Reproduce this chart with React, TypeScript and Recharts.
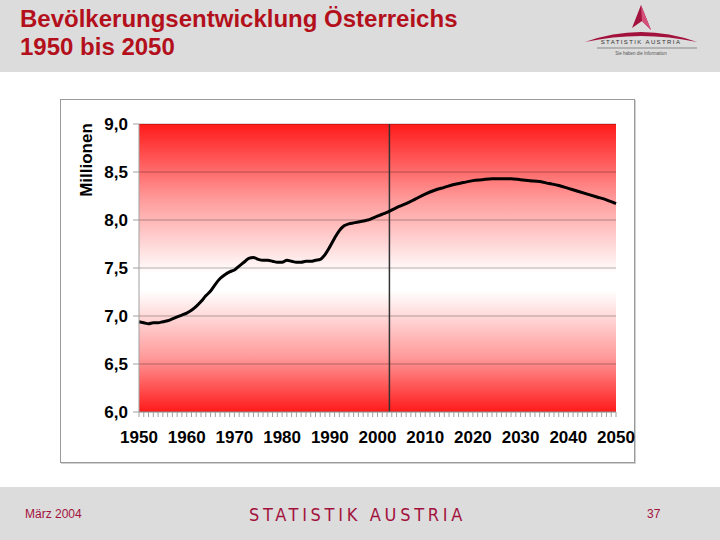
import React from 'react';
import {
  LineChart, Line, XAxis, YAxis, CartesianGrid, ReferenceLine,
} from 'recharts';

// ── Data (Mio. Einwohner) ─────────────────────────────────────
const years = [
  1950, 1951, 1952, 1953, 1954, 1955, 1956, 1957, 1958, 1959,
  1960, 1961, 1962, 1963, 1964, 1965, 1966, 1967, 1968, 1969,
  1970, 1971, 1972, 1973, 1974, 1975, 1976, 1977, 1978, 1979,
  1980, 1981, 1982, 1983, 1984, 1985, 1986, 1987, 1988, 1989,
  1990, 1991, 1992, 1993, 1994, 1995, 1996, 1997, 1998, 1999,
  2000, 2001, 2002, 2004, 2006, 2008, 2010, 2012, 2014, 2016,
  2018, 2020, 2022, 2024, 2026, 2028, 2030, 2032, 2034, 2036,
  2038, 2040, 2042, 2044, 2046, 2048, 2050,
];
const population = [
  6.94, 6.93, 6.92, 6.93, 6.93, 6.94, 6.95, 6.97, 6.99, 7.01,
  7.03, 7.06, 7.10, 7.15, 7.21, 7.26, 7.33, 7.39, 7.43, 7.46,
  7.48, 7.52, 7.56, 7.60, 7.61, 7.59, 7.58, 7.58, 7.57, 7.56,
  7.56, 7.58, 7.57, 7.56, 7.56, 7.57, 7.57, 7.58, 7.59, 7.64,
  7.72, 7.81, 7.89, 7.94, 7.96, 7.97, 7.98, 7.99, 8.00, 8.02,
  8.04, 8.06, 8.08, 8.13, 8.17, 8.22, 8.27, 8.31, 8.34, 8.37,
  8.39, 8.41, 8.42, 8.43, 8.43, 8.43, 8.42, 8.41, 8.40, 8.38,
  8.36, 8.33, 8.30, 8.27, 8.24, 8.21, 8.17,
];
const yTicks = [6.0, 6.5, 7.0, 7.5, 8.0, 8.5, 9.0];
const yearTicks = Array.from({ length: 101 }, (_, i) => 1950 + i);
const baseYear = 2002.5;

const data = years.map((y, i) => ({ year: y, value: population[i] }));

const FONT = '"Liberation Sans", Arial, sans-serif';
const RED = '#b3101c';
const CRIMSON = '#a3123c';
const GRAY_BG = '#dcdcdc';

// ── X tick: small line every year, label every decade ─────────
function YearTick({ x, y, payload }: { x?: number; y?: number; payload?: { value: number } }) {
  const v = payload?.value ?? 0;
  return (
    <g>
      <line x1={x} x2={x} y1={y} y2={(y ?? 0) + 5} stroke="#a0a0a0" strokeWidth={1} />
      {v % 10 === 0 && (
        <text x={x} y={(y ?? 0) + 31} textAnchor="middle" fontFamily={FONT} fontSize={17} fontWeight="bold" fill="#000">
          {v}
        </text>
      )}
    </g>
  );
}

// ── Logo ──────────────────────────────────────────────────────
function Logo() {
  return (
    <svg width={130} height={62} style={{ position: 'absolute', left: 578, top: 0 }}>
      <path d="M63 5 L54 28 L64 21 L73 30 Z" fill={CRIMSON} />
      <path d="M63 5 L64 21 L73 30 Z" fill="#d4507a" />
      <path d="M7 42 Q63 22 119 42 Q63 30 7 42 Z" fill={CRIMSON} />
      <text x={63} y={44} textAnchor="middle" fontFamily={FONT} fontSize={6} letterSpacing={1.4} fill="#333">
        STATISTIK AUSTRIA
      </text>
      <line x1={19} x2={119} y1={48} y2={48} stroke="#888" strokeWidth={1} />
      <text x={63} y={55} textAnchor="middle" fontFamily={FONT} fontSize={4.5} fill="#555">
        Sie haben die Information
      </text>
    </svg>
  );
}

export default function App() {
  return (
    <div style={{ position: 'absolute', left: 0, top: 0, width: 720, height: 540, background: '#fff', overflow: 'hidden', fontFamily: FONT }}>
      {/* Header */}
      <div style={{ position: 'absolute', left: 0, top: 0, width: 720, height: 72, background: GRAY_BG }} />
      <div style={{ position: 'absolute', left: 20, top: 5, color: RED, fontWeight: 'bold', fontSize: 24, lineHeight: '28px' }}>
        Bevölkerungsentwicklung Österreichs<br />1950 bis 2050
      </div>
      <Logo />

      {/* Chart box */}
      <div style={{ position: 'absolute', left: 60, top: 99, width: 573, height: 362, border: '1px solid #9a9a9a', boxShadow: '1px 1px 0 #d0d0d0', background: '#fff' }} />
      <div style={{ position: 'absolute', left: 60, top: 99 }}>
        <LineChart width={575} height={364} data={data} margin={{ top: 25, right: 19, left: 0, bottom: 11 }}>
          <defs>
            <linearGradient id="plotGrad" x1="0" y1="0" x2="0" y2="1">
              <stop offset="0%" stopColor="#ff1a1a" />
              <stop offset="26%" stopColor="#ff9a9a" />
              <stop offset="52%" stopColor="#ffffff" />
              <stop offset="58%" stopColor="#ffffff" />
              <stop offset="81%" stopColor="#ff9a9a" />
              <stop offset="100%" stopColor="#ff1a1a" />
            </linearGradient>
          </defs>
          <CartesianGrid vertical={false} fill="url(#plotGrad)" stroke="#000" strokeOpacity={0.3} />
          <XAxis
            dataKey="year"
            type="number"
            domain={[1950, 2050]}
            ticks={yearTicks}
            interval={0}
            tick={<YearTick />}
            tickLine={false}
            tickSize={0}
            tickMargin={0}
            axisLine={{ stroke: '#a0a0a0' }}
            height={40}
          />
          <YAxis
            domain={[6, 9]}
            ticks={yTicks}
            width={79}
            tickFormatter={(v: number) => v.toFixed(1).replace('.', ',')}
            tick={{ fontFamily: FONT, fontSize: 17, fontWeight: 'bold', fill: '#000' }}
            tickLine={{ stroke: '#a0a0a0' }}
            tickSize={6}
            tickMargin={5}
            axisLine={{ stroke: '#a0a0a0' }}
          />
          <ReferenceLine x={baseYear} stroke="#333" strokeWidth={1.5} />
          <Line
            type="monotone"
            dataKey="value"
            stroke="#000"
            strokeWidth={3}
            dot={false}
            isAnimationActive={false}
          />
        </LineChart>
      </div>
      <svg width={30} height={100} style={{ position: 'absolute', left: 72, top: 110 }}>
        <text transform="translate(20,50) rotate(-90)" textAnchor="middle" fontFamily={FONT} fontSize={17} fontWeight="bold" fill="#000">
          Millionen
        </text>
      </svg>

      {/* Footer */}
      <div style={{ position: 'absolute', left: 0, top: 487, width: 720, height: 53, background: GRAY_BG }} />
      <div style={{ position: 'absolute', left: 25, top: 507, fontSize: 12, color: CRIMSON }}>März 2004</div>
      <div style={{ position: 'absolute', left: 249, top: 504, fontSize: 18, color: CRIMSON, letterSpacing: 3.7, fontFamily: '"Liberation Sans Narrow", "DejaVu Sans Condensed", sans-serif' }}>
        STATISTIK AUSTRIA
      </div>
      <div style={{ position: 'absolute', left: 647, top: 507, fontSize: 12, color: CRIMSON }}>37</div>
    </div>
  );
}
